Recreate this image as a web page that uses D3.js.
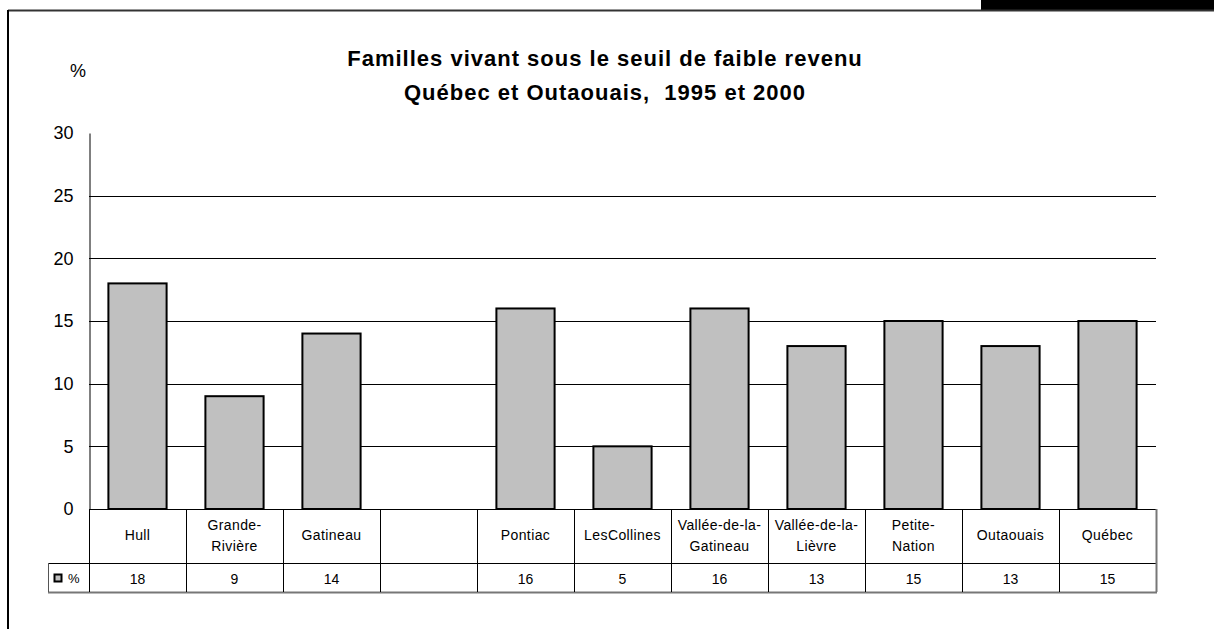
<!DOCTYPE html>
<html>
<head>
<meta charset="utf-8">
<script src="https://cdn.jsdelivr.net/npm/d3@7"></script>
<style>
  body { margin: 0; background: #fff; }
  svg { display: block; font-family: "Liberation Sans", Arial, sans-serif; }
</style>
</head>
<body>
<svg id="chart"></svg>
<script>
// categories (empty column kept as in the original sheet)
const categories = ["Hull", "Grande-Rivière", "Gatineau", "", "Pontiac", "LesCollines",
    "Vallée-de-la-Gatineau", "Vallée-de-la-Lièvre", "Petite-Nation", "Outaouais", "Québec"];
const categoryLines = [["Hull"], ["Grande-", "Rivière"], ["Gatineau"], [], ["Pontiac"], ["LesCollines"],
    ["Vallée-de-la-", "Gatineau"], ["Vallée-de-la-", "Lièvre"], ["Petite-", "Nation"], ["Outaouais"], ["Québec"]];
const values = [18, 9, 14, null, 16, 5, 16, 13, 15, 13, 15];
const yTicks = [0, 5, 10, 15, 20, 25, 30];
const titleLines = ["Familles vivant sous le seuil de faible revenu", "Québec et Outaouais,  1995 et 2000"];

const w = 1214, h = 629;
const margin = { top: 133, left: 89, right: 1156, bottom: 509 };
const rowMid = 563, rowBottom = 592, legendLeft = 48;

const svg = d3.select("#chart").attr("width", w).attr("height", h);

// frame and top-right black strip
svg.append("rect").attr("x", 981).attr("y", 0).attr("width", w - 981).attr("height", 10).attr("fill", "#000");
svg.append("line").attr("x1", 8).attr("x2", w).attr("y1", 10.5).attr("y2", 10.5)
    .attr("stroke", "#333").attr("stroke-width", 2);
svg.append("line").attr("x1", 8).attr("x2", 8).attr("y1", 10).attr("y2", h)
    .attr("stroke", "#000").attr("stroke-width", 2);

const xScale = d3.scaleBand()
    .domain(d3.range(categories.length))
    .range([margin.left, margin.right])
    .paddingInner(0).paddingOuter(0);

const yScale = d3.scaleLinear()
    .domain([0, 30])
    .range([margin.bottom, margin.top]);

// gridlines
svg.append("g")
    .selectAll("line")
    .data(yTicks.filter(t => t > 0 && t < 30))
    .join("line")
    .attr("x1", margin.left).attr("x2", margin.right)
    .attr("y1", d => Math.round(yScale(d)) + 0.5).attr("y2", d => Math.round(yScale(d)) + 0.5)
    .attr("stroke", "#000").attr("stroke-width", 1);

// y axis
let yAxis = g => g
    .attr("transform", `translate(${margin.left + 0.5},0)`)
    .call(d3.axisLeft(yScale).tickValues(yTicks).tickSize(0).tickPadding(16))
    .call(g => g.select(".domain").attr("stroke", "#000"))
    .call(g => g.selectAll("text")
        .attr("font-size", "18px")
        .attr("fill", "#000")
        .attr("font-family", "'Liberation Sans', Arial, sans-serif"));
svg.append("g").call(yAxis);

svg.append("text")
    .attr("x", 78).attr("y", 77)
    .attr("text-anchor", "middle")
    .attr("font-size", "18px")
    .text("%");

// title
svg.append("g")
    .selectAll("text")
    .data(titleLines)
    .join("text")
    .attr("x", 605)
    .attr("y", (d, i) => 66 + i * 34)
    .attr("text-anchor", "middle")
    .attr("font-size", "22px")
    .attr("font-weight", "bold")
    .attr("letter-spacing", "1px")
    .style("white-space", "pre")
    .text(d => d);

// bars
const barW = xScale.bandwidth() * 0.6;
svg.append("g")
    .selectAll("rect")
    .data(values.map((v, i) => ({ v, i })).filter(d => d.v != null))
    .join("rect")
    .attr("x", d => xScale(d.i) + (xScale.bandwidth() - barW) / 2)
    .attr("y", d => yScale(d.v))
    .attr("width", barW)
    .attr("height", d => yScale(0) - yScale(d.v))
    .attr("fill", "#c0c0c0")
    .attr("stroke", "#000")
    .attr("stroke-width", 2);

// data table
const table = svg.append("g").attr("stroke", "#000").attr("stroke-width", 1);
table.append("line").attr("x1", margin.left).attr("x2", margin.right)
    .attr("y1", margin.bottom + 0.5).attr("y2", margin.bottom + 0.5);
table.append("line").attr("x1", legendLeft).attr("x2", margin.right)
    .attr("y1", rowMid + 0.5).attr("y2", rowMid + 0.5);
table.append("line").attr("x1", legendLeft).attr("x2", margin.right + 1)
    .attr("y1", rowBottom + 0.5).attr("y2", rowBottom + 0.5).attr("stroke", "#777").attr("stroke-width", 2);
table.append("line").attr("x1", legendLeft + 0.5).attr("x2", legendLeft + 0.5)
    .attr("y1", rowMid).attr("y2", rowBottom).attr("stroke", "#555");
table.selectAll(".col")
    .data(d3.range(categories.length + 1))
    .join("line")
    .attr("class", "col")
    .attr("x1", i => Math.round(margin.left + i * xScale.step()) + 0.5)
    .attr("x2", i => Math.round(margin.left + i * xScale.step()) + 0.5)
    .attr("y1", margin.bottom).attr("y2", rowBottom)
    .attr("stroke", i => i === categories.length ? "#777" : "#000")
    .attr("stroke-width", i => i === categories.length ? 2 : 1);

// category labels
const catG = svg.append("g")
    .selectAll("text")
    .data(categoryLines)
    .join("text")
    .attr("text-anchor", "middle")
    .attr("font-size", "14px")
    .attr("letter-spacing", "0.4px")
    .attr("x", (d, i) => xScale(i) + xScale.bandwidth() / 2);
catG.each(function (lines, i) {
    const start = lines.length === 2 ? 530 : 540;
    d3.select(this).selectAll("tspan")
        .data(lines)
        .join("tspan")
        .attr("x", xScale(i) + xScale.bandwidth() / 2)
        .attr("y", (d, k) => start + k * 21)
        .text(d => d);
});

// value row
svg.append("g")
    .selectAll("text")
    .data(values)
    .join("text")
    .attr("x", (d, i) => xScale(i) + xScale.bandwidth() / 2)
    .attr("y", 584)
    .attr("text-anchor", "middle")
    .attr("font-size", "14px")
    .text(d => d == null ? "" : d);

// legend key
svg.append("rect")
    .attr("x", 54.5).attr("y", 574.5).attr("width", 7).attr("height", 7)
    .attr("fill", "#c0c0c0").attr("stroke", "#000").attr("stroke-width", 2);
svg.append("text")
    .attr("x", 68).attr("y", 583)
    .attr("font-size", "13px")
    .text("%");
</script>
</body>
</html>
